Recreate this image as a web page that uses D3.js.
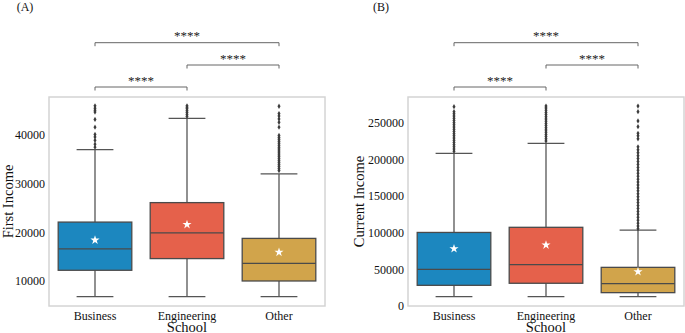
<!DOCTYPE html>
<html>
<head>
<meta charset="utf-8">
<script src="https://cdn.jsdelivr.net/npm/d3@7"></script>
<style>
  body { margin: 0; background: #fff; }
  text { font-family: "Liberation Serif", "DejaVu Serif", serif; fill: #111; }
</style>
</head>
<body>
<svg width="685" height="333"></svg>
<script>
var schools = ["Business", "Engineering", "Other"];
var colors = ["#1c87bf", "#e5614b", "#d1a44b"];

// (A) First Income
var firstLow = [6800, 6800, 6800];
var firstQ1 = [12200, 14600, 10000];
var firstMedian = [16600, 19900, 13600];
var firstQ3 = [22100, 26100, 18750];
var firstHigh = [37000, 43400, 32000];
var firstMean = [18400, 21600, 15900];
var firstOutliers = [
  [46000, 45500, 45100, 44700, 43200, 41600, 40100, 39600, 38900, 38100, 37500],
  [46000, 45700, 45400, 45000, 44600, 44200, 43800],
  [45900, 44400, 43900, 43300, 42600, 41600, 39900, 39500, 39100, 38700, 38300, 37900, 37500,
   37100, 36700, 36300, 35900, 35500, 35100, 34700, 34300, 33900, 33500, 33100, 32700]
];
var firstTicks = [10000, 20000, 30000, 40000];

// (B) Current Income
var currentLow = [12700, 12700, 12700];
var currentQ1 = [28200, 31000, 18200];
var currentMedian = [50000, 56300, 30400];
var currentQ3 = [100300, 107300, 52700];
var currentHigh = [208000, 221800, 103600];
var currentMean = [78100, 83200, 46800];
var currentOutliers = [
  [271800, 265000, 262000, 259000, 256000, 253000, 250000, 247000, 244000, 241000, 238000,
   235000, 232000, 229000, 226000, 223000, 220000, 217000, 214000, 211000],
  [272700, 270000, 267000, 264000, 261000, 258000, 255000, 252000, 249000, 246000, 243000,
   240000, 237000, 234000, 231000, 228000, 225000],
  [272700, 265000, 252300, 244500, 235500, 232000, 228000, 217000, 213000, 209000, 205000,
   201000, 197000, 193000, 189000, 185000, 181000, 177000, 173000, 169000, 165000, 161000,
   157000, 153000, 149000, 145000, 141000, 137000, 133000, 129000, 125000, 121000, 117000,
   113000, 109000, 105500]
];
var currentTicks = [0, 50000, 100000, 150000, 200000, 250000];

var pairs = [[0, 1], [1, 2], [0, 2]];
var pairLabels = ["****", "****", "****"];

var svg = d3.select("svg");

var panels = [
  {tag: "(A)", tagX: 25, left: 49, yLabel: "First Income", yLabelX: 13, domain: [4860, 47800],
   ticks: firstTicks, low: firstLow, q1: firstQ1, med: firstMedian, q3: firstQ3, high: firstHigh,
   mean: firstMean, out: firstOutliers},
  {tag: "(B)", tagX: 381, left: 408, yLabel: "Current Income", yLabelX: 364, domain: [0, 285000],
   ticks: currentTicks, low: currentLow, q1: currentQ1, med: currentMedian, q3: currentQ3, high: currentHigh,
   mean: currentMean, out: currentOutliers}
];

var plotTop = 97, plotBottom = 306, panelW = 276;

panels.forEach(function(p) {
  var g = svg.append("g");
  var x = d3.scaleBand().domain(schools).range([p.left, p.left + panelW]).padding(0);
  var y = d3.scaleLinear().domain(p.domain).range([plotBottom, plotTop]);
  var bw = x.bandwidth() * 0.8;
  var cx = function(i) { return x(schools[i]) + x.bandwidth() / 2; };

  // frame
  g.append("rect")
    .attr("x", p.left).attr("y", plotTop)
    .attr("width", panelW).attr("height", plotBottom - plotTop)
    .attr("fill", "none").attr("stroke", "#d4d4d4").attr("stroke-width", 1.5);

  // y axis labels
  var ya = g.append("g").attr("transform", "translate(" + p.left + ",0)")
    .call(d3.axisLeft(y).tickValues(p.ticks).tickSize(0).tickPadding(4).tickFormat(d3.format("d")));
  ya.select(".domain").remove();
  ya.selectAll("text").style("font-family", "Liberation Serif").style("font-size", "12px").attr("fill", "#111");

  // x axis labels
  var xa = g.append("g").attr("transform", "translate(0," + plotBottom + ")")
    .call(d3.axisBottom(x).tickSize(0).tickPadding(5));
  xa.select(".domain").remove();
  xa.selectAll("text").style("font-family", "Liberation Serif").style("font-size", "12px").attr("fill", "#111");

  g.append("text").attr("x", p.left + panelW / 2).attr("y", 332)
    .attr("text-anchor", "middle").style("font-size", "14.5px").text("School");
  g.append("text")
    .attr("transform", "translate(" + p.yLabelX + "," + ((plotTop + plotBottom) / 2) + ") rotate(-90)")
    .attr("text-anchor", "middle").style("font-size", "14.5px").text(p.yLabel);
  g.append("text").attr("x", p.tagX).attr("y", 11)
    .attr("text-anchor", "middle").style("font-size", "12px").text(p.tag);

  schools.forEach(function(s, i) {
    var c = cx(i);
    // whiskers
    g.append("line").attr("x1", c).attr("x2", c).attr("y1", y(p.low[i])).attr("y2", y(p.q1[i]))
      .attr("stroke", "#555").attr("stroke-width", 1.3);
    g.append("line").attr("x1", c).attr("x2", c).attr("y1", y(p.q3[i])).attr("y2", y(p.high[i]))
      .attr("stroke", "#555").attr("stroke-width", 1.3);
    [p.low[i], p.high[i]].forEach(function(v) {
      g.append("line").attr("x1", c - bw / 4).attr("x2", c + bw / 4).attr("y1", y(v)).attr("y2", y(v))
        .attr("stroke", "#555").attr("stroke-width", 1.3);
    });
    // box
    g.append("rect").attr("x", c - bw / 2).attr("width", bw)
      .attr("y", y(p.q3[i])).attr("height", y(p.q1[i]) - y(p.q3[i]))
      .attr("fill", colors[i]).attr("stroke", "#4a4a4a").attr("stroke-width", 1.3);
    g.append("line").attr("x1", c - bw / 2).attr("x2", c + bw / 2)
      .attr("y1", y(p.med[i])).attr("y2", y(p.med[i]))
      .attr("stroke", "#4a4a4a").attr("stroke-width", 1.3);
    // outliers
    g.selectAll(null).data(p.out[i]).enter().append("path")
      .attr("d", d3.symbol().type(d3.symbolDiamond).size(8))
      .attr("transform", function(d) { return "translate(" + c + "," + y(d) + ")"; })
      .attr("fill", "#3d3d3d");
    // mean
    g.append("path").attr("d", d3.symbol().type(d3.symbolStar).size(26))
      .attr("transform", "translate(" + c + "," + y(p.mean[i]) + ")")
      .attr("fill", "#fff");
  });

  // significance brackets
  var levels = [87, 65, 42.7];
  pairs.forEach(function(pr, k) {
    var ly = levels[k], x1 = cx(pr[0]), x2 = cx(pr[1]);
    g.append("path")
      .attr("d", "M" + x1 + "," + (ly + 3.5) + "V" + ly + "H" + x2 + "V" + (ly + 3.5))
      .attr("fill", "none").attr("stroke", "#666").attr("stroke-width", 1);
    g.append("text").attr("x", (x1 + x2) / 2).attr("y", ly - 2.5)
      .attr("text-anchor", "middle").attr("fill", "#222")
      .style("font-size", "13px").style("fill", "#222").text(pairLabels[k]);
  });
});
</script>
</body>
</html>
